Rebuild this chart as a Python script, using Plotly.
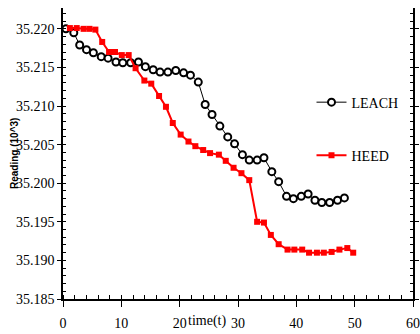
import plotly.graph_objects as go

leach_t = [0.5, 1.85, 2.86, 4.03, 5.21, 6.55, 7.73, 9.08, 10.25, 11.6, 12.94, 14.12, 15.46,
           16.64, 17.98, 19.33, 20.67, 21.85, 23.19, 24.37, 25.55, 26.89, 28.24, 29.41,
           30.76, 31.93, 33.28, 34.45, 35.8, 36.97, 38.32, 39.5, 40.84, 42.02, 43.19,
           44.37, 45.71, 47.06, 48.24]
leach_v = [35.2200, 35.2195, 35.2179, 35.2173, 35.2169, 35.2164, 35.2162, 35.2157, 35.2156,
           35.2156, 35.2157, 35.2151, 35.2147, 35.2144, 35.2144, 35.2146, 35.2143, 35.2140,
           35.2131, 35.2102, 35.2089, 35.2074, 35.2060, 35.2051, 35.2037, 35.2030, 35.2030,
           35.2033, 35.2015, 35.2002, 35.1983, 35.1980, 35.1983, 35.1986, 35.1978, 35.1975,
           35.1975, 35.1978, 35.1981]

heed_t = [1.18, 2.35, 3.53, 4.54, 5.55, 6.72, 7.9, 8.91, 10.08, 11.26, 12.44, 13.95, 15.13,
          16.47, 17.65, 18.82, 20.17, 21.51, 22.69, 24.03, 25.21, 26.72, 27.9, 29.24, 30.59,
          31.93, 33.28, 34.45, 35.63, 36.97, 38.49, 39.66, 41.01, 42.18, 43.53, 44.71,
          46.05, 47.39, 48.74, 49.75]
heed_v = [35.2201, 35.2201, 35.2200, 35.2200, 35.2199, 35.2183, 35.2170, 35.2170, 35.2166,
          35.2166, 35.2149, 35.2133, 35.2129, 35.2113, 35.2099, 35.2078, 35.2063, 35.2054,
          35.2048, 35.2043, 35.2039, 35.2037, 35.2029, 35.2020, 35.2013, 35.2004, 35.1950,
          35.1949, 35.1933, 35.1921, 35.1914, 35.1914, 35.1914, 35.1910, 35.1910, 35.1910,
          35.1911, 35.1914, 35.1916, 35.1910]

x_ticks = [0, 10, 20, 30, 40, 50, 60]
y_ticks = [35.185, 35.190, 35.195, 35.200, 35.205, 35.210, 35.215, 35.220]
y_tick_text = ["35.185", "35.190", "35.195", "35.200", "35.205", "35.210", "35.215", "35.220"]

serif = "Liberation Serif"

fig = go.Figure()
fig.add_trace(go.Scatter(
    x=leach_t, y=leach_v, name="LEACH", mode="lines+markers", legendgroup="a",
    line=dict(color="black", width=1),
    marker=dict(symbol="circle", size=7, color="white", line=dict(color="black", width=2)),
))
fig.add_trace(go.Scatter(
    x=heed_t, y=heed_v, name="HEED", mode="lines+markers", legendgroup="b",
    line=dict(color="#ff0000", width=2),
    marker=dict(symbol="square", size=6, color="#ff0000"),
))

fig.update_layout(
    width=420, height=334,
    margin=dict(l=63, r=1, t=8, b=35),
    paper_bgcolor="white", plot_bgcolor="white",
    font=dict(family=serif, size=14, color="black"),
    legend=dict(x=0.71, y=0.73, xanchor="left", yanchor="top", bgcolor="rgba(0,0,0,0)",
                traceorder="grouped", tracegroupgap=32, font=dict(family=serif, size=14)),
    xaxis=dict(range=[0, 60], tickvals=x_ticks, showgrid=False, zeroline=False,
               showline=True, linecolor="black", linewidth=1.5,
               ticks="outside", ticklen=6, tickcolor="black", tickwidth=1,
               ticklabelstandoff=4,
               minor=dict(dtick=2, ticks="inside", ticklen=4, tickcolor="black", showgrid=False),
               tickfont=dict(family=serif, size=14)),
    yaxis=dict(range=[35.185, 35.2227], tickvals=y_ticks, ticktext=y_tick_text,
               showgrid=False, zeroline=False, showline=True, linecolor="black",
               linewidth=1.5, mirror="ticks",
               ticks="outside", ticklen=4, tickcolor="black", tickwidth=1,
               minor=dict(dtick=0.001, ticks="inside", ticklen=3, tickcolor="black", showgrid=False),
               tickfont=dict(family=serif, size=14)),
    showlegend=True,
)

fig.add_annotation(text="time(t)", x=24.6, xref="x", y=0, yref="paper", yanchor="top",
                   yshift=-12, showarrow=False, font=dict(family=serif, size=14))
fig.add_annotation(text="<b>Reading (10^3)</b>", x=0, xref="paper", y=0.5, yref="paper",
                   xshift=-56, textangle=-90, showarrow=False,
                   font=dict(family="Liberation Sans", size=10))

fig.write_html("out.html", config={"displayModeBar": False},
               post_script="document.body.style.margin='0';document.body.style.overflow='hidden';")
